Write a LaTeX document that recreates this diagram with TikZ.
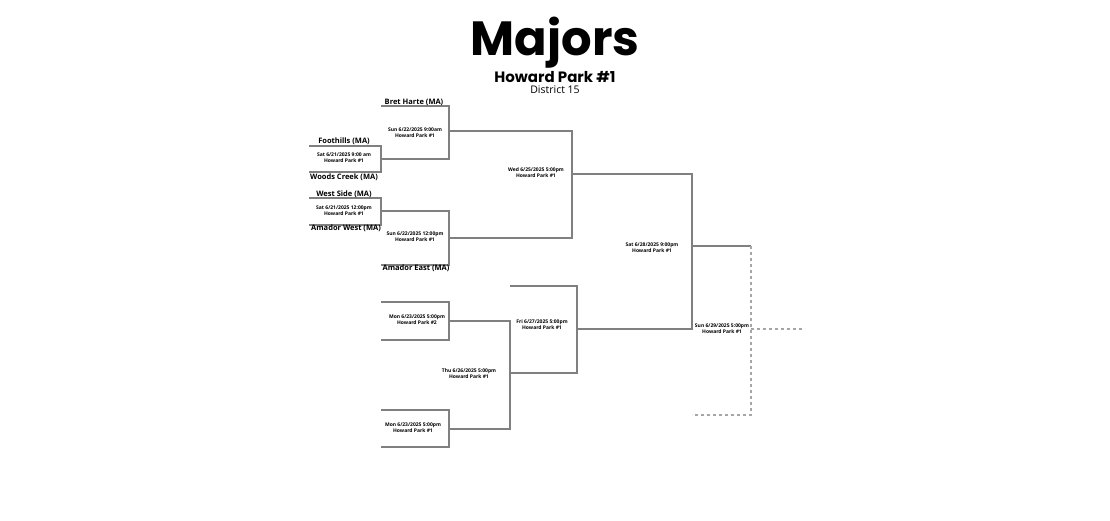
\documentclass[tikz,border=0pt]{standalone}
\usepackage{fontspec}
\setmainfont{Poppins}
\newfontfamily\opensans{Open Sans}
\tikzset{
  bline/.style={draw=gray, line width=1.2pt},
  dline/.style={draw=gray!70, line width=1.1pt, dashed},
  team/.style={font=\fontsize{7.5}{8}\selectfont\bfseries\opensans},
  game/.style={font=\fontsize{5}{6}\selectfont\bfseries\opensans, align=center}
}
\begin{document}
\begin{tikzpicture}[x=1pt,y=-1pt]
  \useasboundingbox (0,0) rectangle (1110,520);
  % titles
  \node (title) at (555,43) {\fontsize{48}{50}\selectfont\bfseries Majors};
  \node (park) at (555,77) {\fontsize{15}{16}\selectfont\bfseries Howard Park \#1};
  \node (district) at (555,90) {\fontsize{10.5}{11}\selectfont\opensans District 15};
  % first round
  \draw[bline] (309,146) -- (381,146) -- (381,172) -- (309,172);
  \draw[bline] (309,198) -- (381,198) -- (381,225) -- (309,225);
  \draw[bline] (381,106) -- (449,106) -- (449,159) -- (381,159);
  \draw[bline] (381,211) -- (449,211) -- (449,265) -- (381,265);
  \draw[bline] (381,302) -- (449,302) -- (449,340) -- (381,340);
  \draw[bline] (381,410) -- (449,410) -- (449,447) -- (381,447);
  % later rounds
  \draw[bline] (449,131) -- (572,131) -- (572,238) -- (449,238);
  \draw[bline] (449,321) -- (510,321) -- (510,429) -- (449,429);
  \draw[bline] (510,286) -- (577,286) -- (577,373) -- (510,373);
  \draw[bline] (572,174) -- (692,174) -- (692,329) -- (577,329);
  \draw[bline] (692,246) -- (751,246);
  \draw[dline] (751,246) -- (751,415) -- (692,415);
  \draw[dline] (751,329) -- (805,329);
  % teams
  \node[team] (bret) at (414,102) {Bret Harte (MA)};
  \node[team] (foot) at (344,141) {Foothills (MA)};
  \node[team] (woods) at (344,177) {Woods Creek (MA)};
  \node[team] (west) at (344,194) {West Side (MA)};
  \node[team] (amw) at (346,228) {Amador West (MA)};
  \node[team] (ame) at (416,268) {Amador East (MA)};
  % games
  \node[game] (g1) at (344,158) {Sat 6/21/2025 9:00 am\\Howard Park \#1};
  \node[game] (g2) at (344,211) {Sat 6/21/2025 12:00pm\\Howard Park \#1};
  \node[game] (g3) at (415,133) {Sun 6/22/2025 9:00am\\Howard Park \#1};
  \node[game] (g4) at (415,237) {Sun 6/22/2025 12:00pm\\Howard Park \#1};
  \node[game] (g5) at (417,320) {Mon 6/23/2025 5:00pm\\Howard Park \#2};
  \node[game] (g6) at (413,428) {Mon 6/23/2025 5:00pm\\Howard Park \#1};
  \node[game] (g7) at (536,173) {Wed 6/25/2025 5:00pm\\Howard Park \#1};
  \node[game] (g8) at (469,374) {Thu 6/26/2025 5:00pm\\Howard Park \#1};
  \node[game] (g9) at (542,325) {Fri 6/27/2025 5:00pm\\Howard Park \#1};
  \node[game] (g10) at (652,248) {Sat 6/28/2025 9:00pm\\Howard Park \#1};
  \node[game] (g11) at (722,329) {Sun 6/29/2025 5:00pm\\Howard Park \#1};
\end{tikzpicture}
\end{document}
